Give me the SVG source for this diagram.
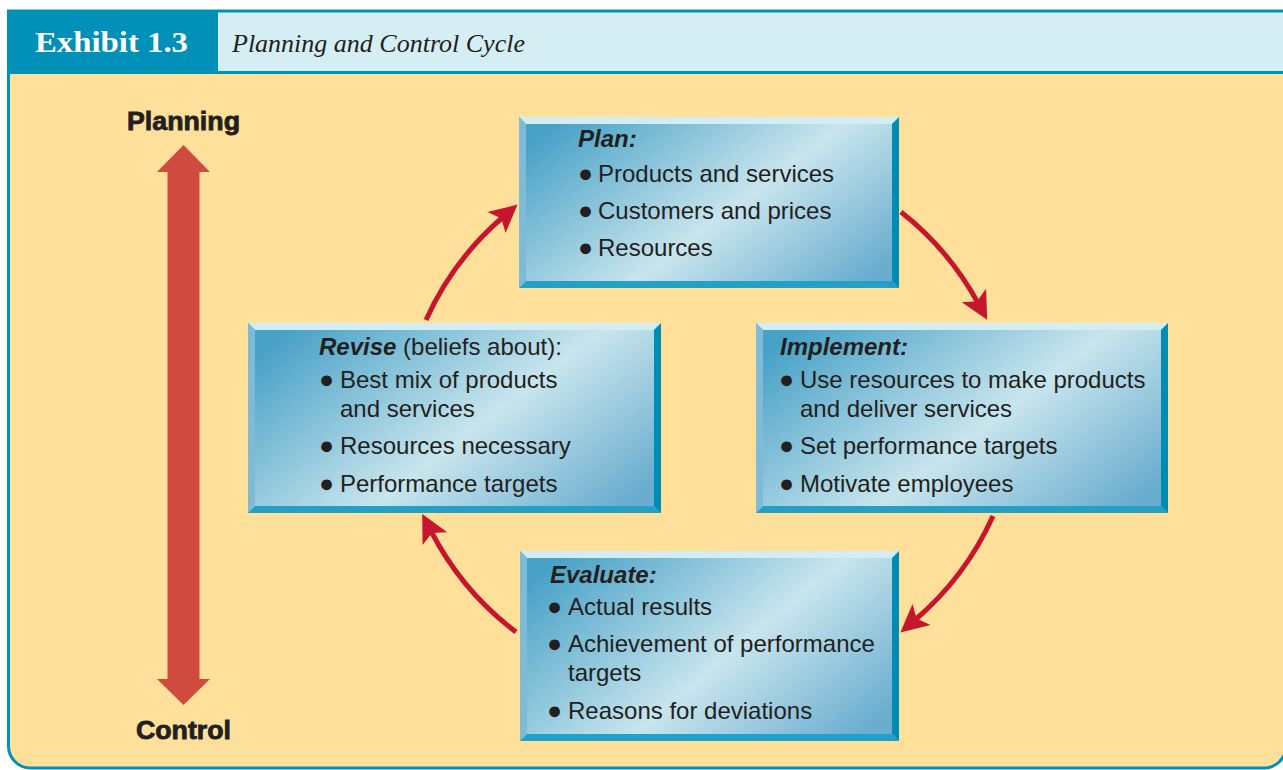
<svg xmlns="http://www.w3.org/2000/svg" width="1283" height="770" viewBox="0 0 1283 770">
<style>
.txt{font-family:"Liberation Sans",Arial,sans-serif;font-size:24px;fill:#231f20}
.ttl{font-weight:bold;font-style:italic}
.bul{font-size:25px}
.lbl{font-family:"Liberation Sans",Arial,sans-serif;font-weight:bold;font-size:25px;fill:#231f20;stroke:#231f20;stroke-width:0.8;text-anchor:middle}
.tl{fill:#d3edf2}.lf{fill:#7fbbd7}.rt{fill:#008cb5}.bt{fill:#23a0c5}
.conn{fill:none;stroke:#c6162d;stroke-width:5;marker-end:url(#ah)}
</style>
<defs>
<linearGradient id="face" x1="0" y1="0.2" x2="1" y2="0.8">
<stop offset="0" stop-color="#48a1c7"/>
<stop offset="0.56" stop-color="#c8e5ed"/>
<stop offset="1" stop-color="#6aadcf"/>
</linearGradient>
<marker id="ah" markerUnits="userSpaceOnUse" markerWidth="32" markerHeight="32" viewBox="0 -15 28 30" refX="8" refY="0" orient="auto">
<path d="M0 -13 L26 0 L0 13 L6 0 Z" fill="#c6162d"/>
</marker>
</defs>
<g id="frame">
<path d="M8.5 11 V746 A22 22 0 0 0 30.5 768 H1264 A22 22 0 0 0 1286 746 V11 Z" fill="#fee09b" stroke="#0090b8" stroke-width="3"/>
<rect x="7" y="10" width="1280" height="64" fill="#0090b8"/>
<rect x="218" y="12.5" width="1069" height="58.5" fill="#d4eef3"/>
<text x="35" y="52" font-family="'Liberation Serif',serif" font-weight="bold" font-size="30" fill="#ffffff" textLength="153" lengthAdjust="spacingAndGlyphs">Exhibit 1.3</text>
<text x="232" y="52" font-family="'Liberation Serif',serif" font-style="italic" font-size="26" fill="#231f20">Planning and Control Cycle</text>
</g>
<g id="axis">
<polygon points="183.5,145 210,172 199.5,172 199.5,679 210,679 183.5,705 157,679 167.5,679 167.5,172 157,172" fill="#d04b3f"/>
<text class="lbl" x="183.5" y="130" textLength="113" lengthAdjust="spacingAndGlyphs">Planning</text>
<text class="lbl" x="183.5" y="739" textLength="95" lengthAdjust="spacingAndGlyphs">Control</text>
</g>
<g id="connectors">
<path class="conn" d="M426 320 A296 296 0 0 1 503 217"/>
<path class="conn" d="M901 212 A296 296 0 0 1 978 303"/>
<path class="conn" d="M993 516 A296 296 0 0 1 915 620"/>
<path class="conn" d="M516 632 A296 296 0 0 1 431 531"/>
</g>
<g id="plan">
<rect x="519" y="117" width="380" height="171" fill="url(#face)"/>
<polygon class="tl" points="519,117 899,117 892,124 526,124"/>
<polygon class="lf" points="519,117 526,124 526,281 519,288"/>
<polygon class="rt" points="899,117 899,288 892,281 892,124"/>
<polygon class="bt" points="519,288 526,281 892,281 899,288"/>
<text class="txt ttl" x="578" y="147">Plan:</text>
<text class="txt" x="578" y="182"><tspan class="bul">●</tspan><tspan x="598">Products and services</tspan></text>
<text class="txt" x="578" y="219"><tspan class="bul">●</tspan><tspan x="598">Customers and prices</tspan></text>
<text class="txt" x="578" y="256"><tspan class="bul">●</tspan><tspan x="598">Resources</tspan></text>
</g>
<g id="implement">
<rect x="756" y="323" width="412" height="190" fill="url(#face)"/>
<polygon class="tl" points="756,323 1168,323 1161,330 763,330"/>
<polygon class="lf" points="756,323 763,330 763,506 756,513"/>
<polygon class="rt" points="1168,323 1168,513 1161,506 1161,330"/>
<polygon class="bt" points="756,513 763,506 1161,506 1168,513"/>
<text class="txt ttl" x="780" y="355">Implement:</text>
<text class="txt" x="779" y="388"><tspan class="bul">●</tspan><tspan x="800">Use resources to make products</tspan></text>
<text class="txt" x="800" y="417">and deliver services</text>
<text class="txt" x="779" y="454"><tspan class="bul">●</tspan><tspan x="800">Set performance targets</tspan></text>
<text class="txt" x="779" y="492"><tspan class="bul">●</tspan><tspan x="800">Motivate employees</tspan></text>
</g>
<g id="revise">
<rect x="248" y="323" width="413" height="190" fill="url(#face)"/>
<polygon class="tl" points="248,323 661,323 654,330 255,330"/>
<polygon class="lf" points="248,323 255,330 255,506 248,513"/>
<polygon class="rt" points="661,323 661,513 654,506 654,330"/>
<polygon class="bt" points="248,513 255,506 654,506 661,513"/>
<text class="txt" x="319" y="355"><tspan class="ttl">Revise</tspan> (beliefs about):</text>
<text class="txt" x="319" y="388"><tspan class="bul">●</tspan><tspan x="340">Best mix of products</tspan></text>
<text class="txt" x="340" y="417">and services</text>
<text class="txt" x="319" y="454"><tspan class="bul">●</tspan><tspan x="340">Resources necessary</tspan></text>
<text class="txt" x="319" y="492"><tspan class="bul">●</tspan><tspan x="340">Performance targets</tspan></text>
</g>
<g id="evaluate">
<rect x="520" y="551" width="379" height="190" fill="url(#face)"/>
<polygon class="tl" points="520,551 899,551 892,558 527,558"/>
<polygon class="lf" points="520,551 527,558 527,734 520,741"/>
<polygon class="rt" points="899,551 899,741 892,734 892,558"/>
<polygon class="bt" points="520,741 527,734 892,734 899,741"/>
<text class="txt ttl" x="550" y="583">Evaluate:</text>
<text class="txt" x="547" y="615"><tspan class="bul">●</tspan><tspan x="568">Actual results</tspan></text>
<text class="txt" x="547" y="652"><tspan class="bul">●</tspan><tspan x="568">Achievement of performance</tspan></text>
<text class="txt" x="568" y="681">targets</text>
<text class="txt" x="547" y="719"><tspan class="bul">●</tspan><tspan x="568">Reasons for deviations</tspan></text>
</g>
</svg>
